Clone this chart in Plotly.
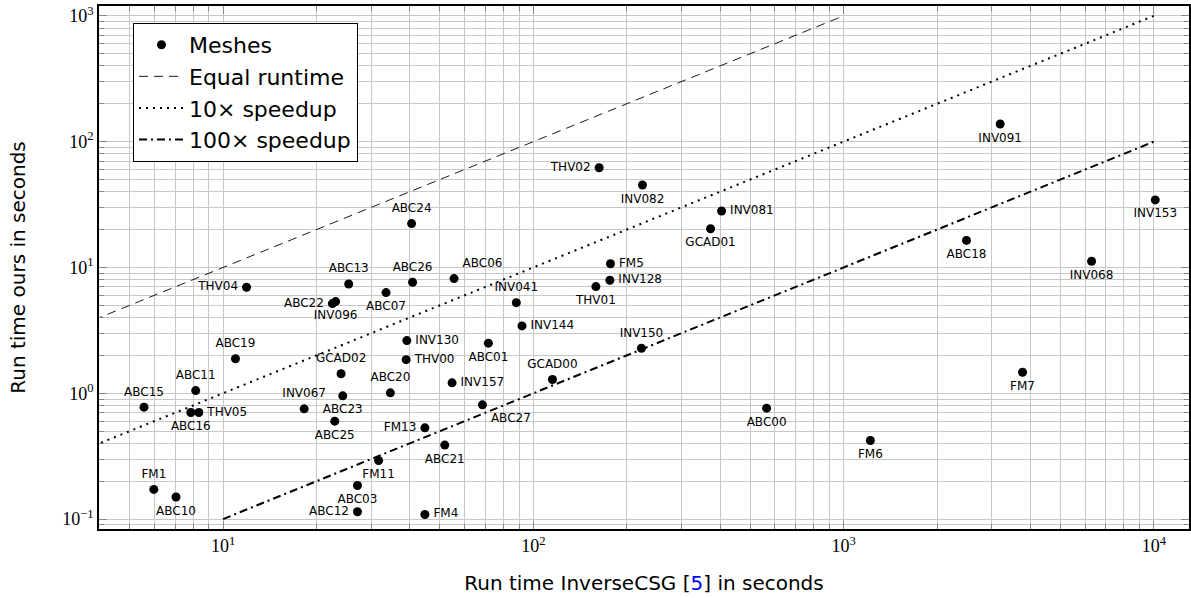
import numpy as np
import plotly.graph_objects as go

# ---- data ----
names = ["ABC24", "THV04", "ABC13", "ABC26", "ABC07", "ABC22", "INV096", "INV130",
         "THV00", "ABC19", "GCAD02", "ABC20", "ABC11", "INV067", "ABC23", "ABC15",
         "ABC16", "THV05", "ABC25", "FM13", "ABC21", "FM11", "FM1", "ABC10",
         "ABC03", "ABC12", "FM4", "INV157", "ABC27", "ABC01", "THV02", "INV082",
         "INV081", "GCAD01", "FM5", "INV128", "THV01", "ABC06", "INV041", "INV144",
         "GCAD00", "INV150", "ABC00", "INV091", "INV153", "ABC18", "INV068", "FM7", "FM6"]
inversecsg_time = [40.5, 11.9, 25.4, 40.8, 33.5, 22.5, 23.05, 39.1,
                   38.9, 10.96, 24.0, 34.6, 8.16, 18.25, 24.3, 5.56,
                   7.87, 8.35, 22.9, 44.7, 51.8, 31.7, 5.98, 7.05,
                   27.1, 27.1, 44.7, 54.7, 68.5, 71.6, 162.9, 224.7,
                   404.2, 372.4, 177.2, 176.4, 159.0, 55.5, 88.1, 91.9,
                   115.2, 223.0, 564.5, 3195.0, 10100.0, 2488.0, 6295.0, 3772.0, 1219.0]
ours_time = [22.3, 6.96, 7.39, 7.63, 6.31, 5.16, 5.35, 2.62,
             1.85, 1.88, 1.43, 1.007, 1.05, 0.752, 0.954, 0.775,
             0.703, 0.703, 0.60, 0.531, 0.387, 0.292, 0.172, 0.1496,
             0.185, 0.1143, 0.1088, 1.21, 0.809, 2.50, 62.0, 45.2,
             28.1, 20.3, 10.7, 7.91, 7.04, 8.15, 5.25, 3.43,
             1.285, 2.28, 0.761, 138.0, 34.4, 16.4, 11.2, 1.47, 0.421]
label_side = ["top center", "middle left", "top center", "top center", "bottom center",
              "middle left", "bottom center", "middle right", "middle right", "top center",
              "top center", "top center", "top center", "top center", "bottom center",
              "top center", "bottom center", "middle right", "bottom center", "middle left",
              "bottom center", "bottom center", "top center", "bottom center", "bottom center",
              "middle left", "middle right", "middle right", "bottom right", "bottom center",
              "middle left", "bottom center", "middle right", "bottom center", "middle right",
              "middle right", "bottom center", "top right", "top center", "middle right",
              "top center", "top center", "bottom center", "bottom center", "bottom center",
              "bottom center", "bottom center", "bottom center", "bottom center"]

ref_names = ["Equal runtime", "10× speedup", "100× speedup"]
ref_factor = [1, 10, 100]
ref_domain = [(1, 1000), (1, 10000), (10, 10000)]
ref_dash = ["9px,6px", "2px,5px", "8px,4px,2px,4px"]
ref_width = [0.9, 2.0, 2.0]

x_major = [10, 100, 1000, 10000]
x_major_text = ["10<sup>1</sup>", "10<sup>2</sup>", "10<sup>3</sup>", "10<sup>4</sup>"]
y_major = [0.1, 1, 10, 100, 1000]
y_major_text = ["10<sup>−1</sup>", "10<sup>0</sup>", "10<sup>1</sup>", "10<sup>2</sup>", "10<sup>3</sup>"]

minor_x = [m * 10 ** e for e in range(0, 5) for m in range(2, 10)]
minor_y = [m * 10 ** e for e in range(-2, 4) for m in range(2, 10)]

fig = go.Figure()
fig.add_trace(go.Scatter(x=inversecsg_time, y=ours_time, mode="markers", name="Meshes",
                         marker=dict(color="black", size=9)))
for nm, f, dom, dsh, w in zip(ref_names, ref_factor, ref_domain, ref_dash, ref_width):
    xs = np.array(dom, dtype=float)
    fig.add_trace(go.Scatter(x=xs, y=xs / f, mode="lines", name=nm,
                             line=dict(color="black", dash=dsh, width=w)))
# labels: invisible markers give the text its offset from each point
fig.add_trace(go.Scatter(x=inversecsg_time, y=ours_time, mode="markers+text", text=names,
                         textposition=label_side, showlegend=False, cliponaxis=False,
                         hoverinfo="skip",
                         marker=dict(size=12, opacity=0),
                         textfont=dict(family="DejaVu Sans", size=12, color="black")))

grid_col = "#c8c8c8"
fig.update_xaxes(type="log", range=[0.6, 4.113], tickvals=x_major, ticktext=x_major_text,
                 showgrid=True, gridcolor=grid_col, gridwidth=1, automargin=False,
                 ticks="inside", ticklen=8, tickcolor="#888", mirror="allticks",
                 showline=True, linecolor="black", linewidth=1.5,
                 tickfont=dict(family="Liberation Serif", size=18, color="black"),
                 minor=dict(tickvals=minor_x, showgrid=True, gridcolor=grid_col,
                            ticks="inside", ticklen=5, tickcolor="#888"),
                 title=dict(text="Run time InverseCSG [<span style='color:#0000ff'>5</span>] in seconds",
                            font=dict(family="DejaVu Sans", size=20, color="black"), standoff=21),
                 zeroline=False)
fig.update_yaxes(type="log", range=[-1.079, 3.078], tickvals=y_major, ticktext=y_major_text,
                 showgrid=True, gridcolor=grid_col, gridwidth=1, automargin=False,
                 ticks="inside", ticklen=8, tickcolor="#888", mirror="allticks",
                 showline=True, linecolor="black", linewidth=1.5,
                 tickfont=dict(family="Liberation Serif", size=18, color="black"),
                 minor=dict(tickvals=minor_y, showgrid=True, gridcolor=grid_col,
                            ticks="inside", ticklen=5, tickcolor="#888"),
                 title=dict(text="Run time ours in seconds",
                            font=dict(family="DejaVu Sans", size=20, color="black"), standoff=31),
                 zeroline=False)

fig.update_layout(
    width=1191, height=598,
    margin=dict(l=99, r=2, t=6, b=69),
    plot_bgcolor="white", paper_bgcolor="white",
    legend=dict(x=0.031, y=0.968, xanchor="left", yanchor="top",
                bgcolor="white", bordercolor="black", borderwidth=1.2,
                font=dict(family="DejaVu Sans", size=22, color="black"),
                itemwidth=45, tracegroupgap=0),
)

fig.write_html("out.html", config={"displayModeBar": False},
               post_script="document.body.style.margin='0';document.body.style.overflow='hidden';")
